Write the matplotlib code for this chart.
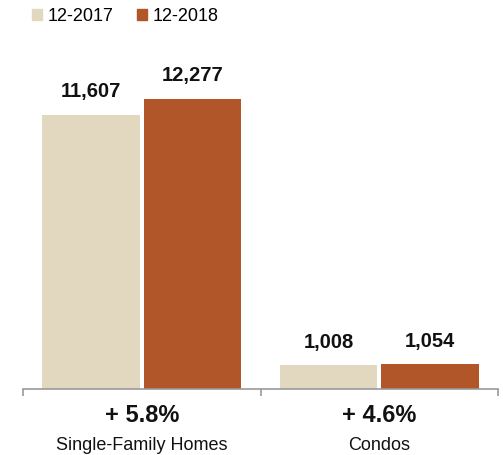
import matplotlib.pyplot as plt
import numpy as np
from matplotlib.patches import Patch

plt.rcParams['font.family'] = ['Liberation Sans', 'DejaVu Sans']

categories = ["Single-Family Homes", "Condos"]
series = ["12-2017", "12-2018"]
values_2017 = [11607, 1008]
values_2018 = [12277, 1054]
changes = ["+ 5.8%", "+ 4.6%"]

colors = ["#E2D7BF", "#B15628"]

fig = plt.figure(figsize=(5.03, 4.55), dpi=100)
ax = fig.add_axes([23 / 503, 1 - 389 / 455, 475 / 503, 331 / 455])

x = np.arange(len(categories))
width = 0.41
gap = 0.009

bars_a = ax.bar(x - width / 2 - gap, values_2017, width, color=colors[0])
bars_b = ax.bar(x + width / 2 + gap, values_2018, width, color=colors[1])

# value labels above each bar
for bars in (bars_a, bars_b):
    for b in bars:
        ax.annotate(f"{int(b.get_height()):,}", (b.get_x() + b.get_width() / 2, b.get_height()),
                    xytext=(0, 12.5), textcoords="offset points", ha="center", va="baseline",
                    fontsize=14.5, fontweight="bold", color="#111111")

ax.set_xlim(-0.5, 1.5)
ax.set_ylim(0, 14000)
ax.set_yticks([])
for s in ["top", "right", "left"]:
    ax.spines[s].set_visible(False)
ax.spines["bottom"].set_color("#999999")
ax.spines["bottom"].set_linewidth(1.2)
ax.set_xticks([-0.5, 0.5, 1.5])
ax.set_xticklabels([])
ax.tick_params(axis="x", length=5, color="#999999", width=1.2)

for i, (cat, ch) in enumerate(zip(categories, changes)):
    ax.text(i, -33 / 331, ch, transform=ax.get_xaxis_transform(), ha="center", va="baseline",
            fontsize=17, fontweight="bold", color="#111111")
    ax.text(i, -61 / 331, cat, transform=ax.get_xaxis_transform(), ha="center", va="baseline",
            fontsize=13, color="#111111")

handles = [Patch(color=c) for c in colors]
fig.legend(handles, series, loc="upper left", bbox_to_anchor=(25 / 503, 1 - 1 / 455), ncol=2,
           frameon=False, fontsize=13, handlelength=0.55, handleheight=0.55,
           handletextpad=0.3, columnspacing=1.3, borderaxespad=0)

fig.savefig("out.png", dpi=100)
